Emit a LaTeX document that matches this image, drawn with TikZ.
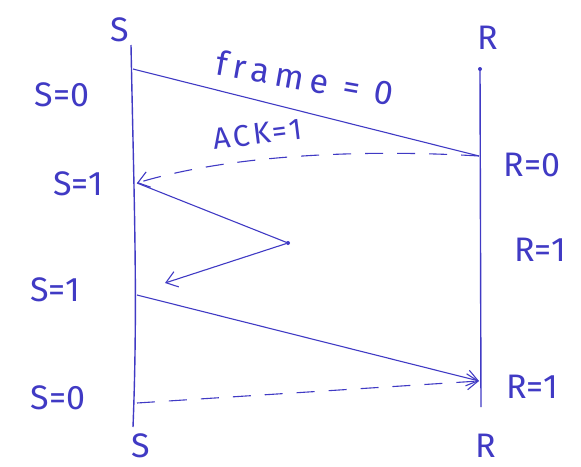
\documentclass[tikz,border=0pt]{standalone}
\usepackage{fontspec}
\setmainfont{Fira Sans}
\usetikzlibrary{arrows.meta}
\definecolor{ink}{RGB}{64,58,196}
\tikzset{
  x=1pt, y=-1pt,
  lifeline/.style={draw=ink, line width=1.4pt},
  msg/.style={draw=ink, line width=1.1pt},
  ackmsg/.style={draw=ink, line width=1.1pt, dash pattern=on 18pt off 14pt},
  tip/.style={-{Straight Barb[length=11pt,width=16pt,line width=1.1pt]}},
  lbl/.style={text=ink, font=\fontsize{34}{38}\selectfont, inner sep=0pt},
  dotm/.style={circle, fill=ink, inner sep=0pt, minimum size=4pt}
}
\begin{document}
\begin{tikzpicture}
\useasboundingbox (0,0) rectangle (581,466);
% lifeline ends
\coordinate (stop) at (131,45);
\coordinate (sbot) at (133,427);
\coordinate (rtop) at (480,69);
\coordinate (rbot) at (481,407);
\node[dotm] (rdot) at (rtop) {};
\draw[lifeline] (stop) .. controls (134,200) and (138,300) .. (sbot);
\draw[lifeline] (rtop) -- (rbot);
% end labels
\node[lbl] (stl) at (120,30) {S};
\node[lbl] (rtl) at (488,38) {R};
\node[lbl] (sbl) at (141,446) {S};
\node[lbl] (rbl) at (486,446) {R};
% event points
\coordinate (s1) at (133,69);
\coordinate (r1) at (479,156);
\coordinate (s2) at (137,183);
\coordinate (lost) at (288,243);
\coordinate (lostend) at (165,283);
\coordinate (s3) at (137,295);
\coordinate (r2) at (479,381);
\coordinate (s4) at (137,403);
% messages
\draw[msg] (s1) -- (r1);
\node[lbl, rotate=-10, font=\fontsize{34}{38}\selectfont\addfontfeatures{LetterSpace=18}] (f0) at (305,78) {frame = 0};
\draw[ackmsg, tip] (r1) .. controls (380,150) and (240,152) .. (s2);
\node[lbl, rotate=7, font=\fontsize{30}{34}\selectfont\addfontfeatures{LetterSpace=10}] (a1) at (258,134) {ACK=1};
\draw[msg] (s2) -- (lost);
\node[dotm] (ld) at (lost) {};
\draw[msg, tip] (ld) -- (lostend);
\draw[msg, tip] (s3) -- (r2);
\draw[ackmsg, tip] (s4) -- (r2);
% state labels
\node[lbl] (sa) at (62,95) {S=0};
\node[lbl] (sb) at (78,184) {S=1};
\node[lbl] (sc) at (55,290) {S=1};
\node[lbl] (sd) at (58,398) {S=0};
\node[lbl] (ra) at (532,165) {R=0};
\node[lbl] (rb) at (540,250) {R=1};
\node[lbl] (rc) at (532,387) {R=1};
\end{tikzpicture}
\end{document}
